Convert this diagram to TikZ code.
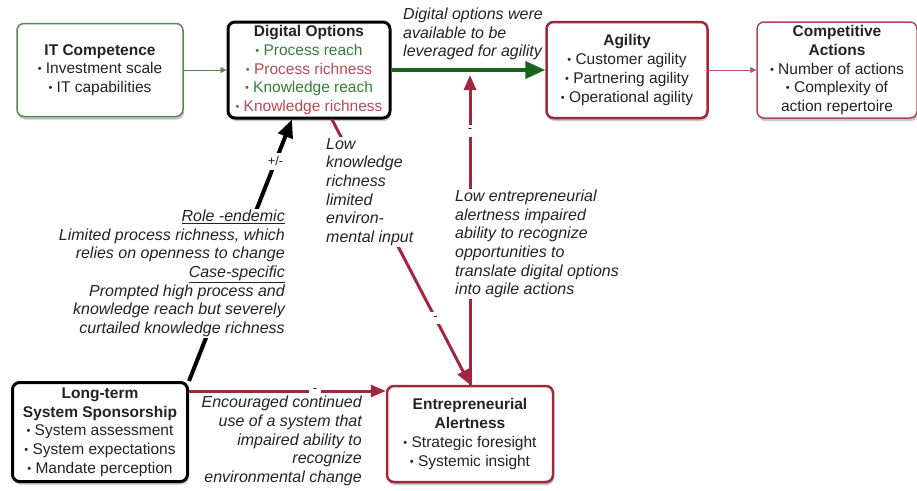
\documentclass[tikz,border=0pt]{standalone}
\usepackage{fontspec}
\setmainfont{Liberation Sans}
\usetikzlibrary{arrows.meta,shadows}

\definecolor{boxgreen}{RGB}{85,135,85}
\definecolor{txtgreen}{RGB}{55,125,55}
\definecolor{txtred}{RGB}{180,75,90}
\definecolor{boxred}{RGB}{160,40,60}
\definecolor{arrgreen}{RGB}{25,100,25}
\definecolor{txtgray}{RGB}{35,35,35}

\newcommand{\itm}{\raisebox{0.12ex}{\fontsize{11}{11}\selectfont\textbullet}\ }

\begin{document}
\begin{tikzpicture}[x=1pt,y=-1pt,
  every node/.style={font=\fontsize{15.5}{18.7}\selectfont, text=txtgray},
  box/.style={rounded corners=7pt, align=center, inner sep=1pt, fill=white,
    drop shadow={opacity=0.45,shadow xshift=1pt,shadow yshift=-3pt}},
  note/.style={font=\fontsize{16}{18.6}\selectfont\itshape, inner sep=1pt, fill=white},
  sign/.style={fill=white, inner sep=4pt, font=\fontsize{13}{13}\selectfont},
  thin link/.style={-{Triangle[length=6pt,width=6pt]}, line width=0.8pt},
  red link/.style={-{Triangle[length=15pt,width=12pt]}, boxred, line width=3pt}
]
\useasboundingbox (0,0) rectangle (917,490);

% boxes
\node[box, draw=boxgreen, line width=1.5pt, minimum width=166pt, minimum height=93pt] (itc) at (100,70)
  {\textbf{IT Competence}\\ \itm Investment scale\\ \itm IT capabilities};
\node[box, draw=black, line width=3pt, minimum width=162pt, minimum height=96pt] (dop) at (309,70)
  {\textbf{Digital Options}\\ \textcolor{txtgreen}{\itm Process reach}\\ \textcolor{txtred}{\itm Process richness}\\
   \textcolor{txtgreen}{\itm Knowledge reach}\\ \textcolor{txtred}{\itm Knowledge richness}};
\node[box, draw=boxred, line width=2.5pt, minimum width=161pt, minimum height=96pt] (agi) at (627,70)
  {\textbf{Agility}\\ \itm Customer agility\\ \itm Partnering agility\\ \itm Operational agility};
\node[box, draw=boxred!85, line width=1.5pt, minimum width=160pt, minimum height=96pt] (cac) at (837,70)
  {\textbf{Competitive}\\ \textbf{Actions}\\ \itm Number of actions\\ \itm Complexity of\\ action repertoire};
\node[box, draw=black, line width=3pt, minimum width=175pt, minimum height=99pt] (lts) at (100,432)
  {\textbf{Long-term}\\ \textbf{System Sponsorship}\\ \itm System assessment\\ \itm System expectations\\ \itm Mandate perception};
\node[box, draw=boxred, line width=2.5pt, minimum width=166pt, minimum height=96pt] (eal) at (470,434)
  {\textbf{Entrepreneurial}\\ \textbf{Alertness}\\ \itm Strategic foresight\\ \itm Systemic insight};

% links
\draw[thin link, boxgreen] (itc) -- (dop);
\draw[-{Triangle[length=20pt,width=17pt]}, arrgreen, line width=4pt] (dop) -- (agi);
\draw[thin link, boxred!80] (agi) -- (cac);
\draw[-{Triangle[length=18pt,width=15pt]}, line width=4pt, black]
  (lts.north east) -- node[sign, pos=0.84] {+/-} ([xshift=-17pt]dop.south);
\draw[red link] ([xshift=23pt]dop.south) -- node[sign, pos=0.75] {-} (eal.north);
\coordinate (hit) at (eal.north |- dop.east);
\draw[red link] (eal.north) -- node[sign, pos=0.82] {-} ([yshift=-5pt]hit);
\coordinate (lout) at ([yshift=41pt]lts.east);
\draw[red link] (lout) -- node[sign, pos=0.64] {-} (eal.west |- lout);

% notes
\node[note, anchor=north west, align=left] (optnote) at (402,7)
  {Digital options were\\available to be\\leveraged for agility};
\node[note, anchor=north west, align=left] (knownote) at (325,137)
  {Low\\knowledge\\richness\\limited\\environ-\\mental input};
\node[note, anchor=north west, align=left] (alertnote) at (454,189)
  {Low entrepreneurial\\alertness impaired\\ability to recognize\\opportunities to\\translate digital options\\into agile actions};
\node[note, anchor=north east, align=right] (rolenote) at (286,209)
  {\underline{Role -endemic}\\Limited process richness, which\\relies on openness to change\\\underline{Case-specific}\\
   Prompted high process and\\knowledge reach but severely\\curtailed knowledge richness};
\node[note, anchor=north east, align=right] (usenote) at (363,395)
  {Encouraged continued\\use of a system that\\impaired ability to\\recognize\\environmental change};
\end{tikzpicture}
\end{document}
